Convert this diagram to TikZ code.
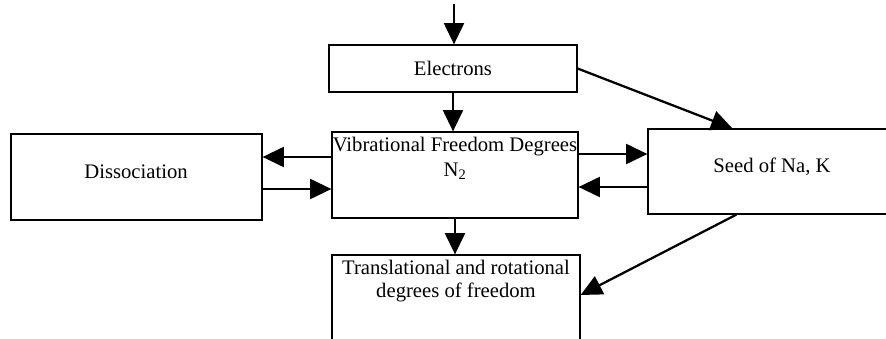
\documentclass[tikz,border=0pt]{standalone}
\usepackage{fontspec}
\setmainfont{Liberation Serif}
\usetikzlibrary{arrows.meta, positioning, calc}

\begin{document}
\begin{tikzpicture}[x=0.75pt, y=-0.75pt,
    box/.style={rectangle, draw=black, line width=0.9pt, inner sep=0pt},
    lbl/.style={font=\fontsize{15.5}{17}\selectfont, align=center},
    arrow/.style={line width=1.7pt, -{Triangle[length=16pt,width=15pt]}}
]
    \useasboundingbox (0,0) rectangle (886,339);
    \clip (0,0) rectangle (886,339);

    % boxes
    \node[box, lbl, minimum width=186pt, minimum height=35.25pt] (elec) at (453,68.5) {Electrons};
    \node[box, minimum width=188.25pt, minimum height=64.5pt] (diss) at (136.5,177) {};
    \node[lbl] (disstext) at (136,172) {Dissociation};
    \node[box, minimum width=184.5pt, minimum height=64.5pt] (vib) at (455,175) {};
    \node[lbl, anchor=north, font=\fontsize{15.5}{19}\selectfont] (vibtext) at ([yshift=-0.5pt]vib.north) {Vibrational Freedom Degrees\\N\textsubscript{2}};
    \node[box, minimum width=204pt, minimum height=63.75pt] (seed) at (784,171.5) {};
    \node[lbl] (seedtext) at (772,167) {Seed of Na, K};
    \node[box, minimum width=186pt, minimum height=93.75pt] (trans) at (456,317.5) {};
    \node[lbl, anchor=north] (transtext) at ([yshift=-1pt]trans.north) {Translational and rotational\\degrees of freedom};

    % arrow rows
    \coordinate (src) at (454,4);
    \coordinate (r1) at (0,157);
    \coordinate (r2) at (0,189);
    \coordinate (r3) at (0,154);
    \coordinate (r4) at (0,187);
    \coordinate (r5) at (0,295);

    \draw[arrow] (src) -- (src |- elec.north);
    \draw[arrow] (elec.south) -- (elec.south |- vib.north);
    \draw[arrow] (vib.south) -- (vib.south |- trans.north);
    \draw[arrow] (vib.west |- r1) -- (diss.east |- r1);
    \draw[arrow] (diss.east |- r2) -- (vib.west |- r2);
    \draw[arrow] (vib.east |- r3) -- (seed.west |- r3);
    \draw[arrow] (seed.west |- r4) -- (vib.east |- r4);
    \draw[arrow] (elec.east) -- ($(seed.north west)+(85,0)$);
    \draw[arrow] ($(seed.south west)+(89,0)$) -- (trans.east |- r5);
\end{tikzpicture}
\end{document}
